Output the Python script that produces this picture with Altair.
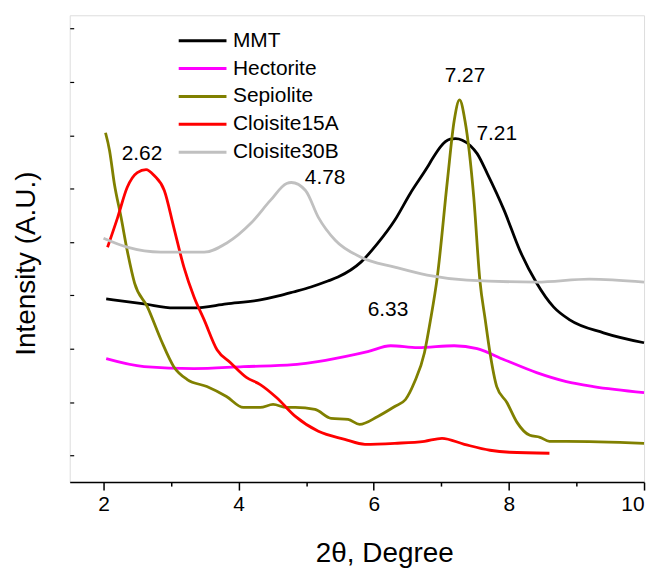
import altair as alt
import pandas as pd

series = ["MMT", "Hectorite", "Sepiolite", "Cloisite15A", "Cloisite30B"]
colors = ["#000000", "#ff00ff", "#808000", "#ff0000", "#c0c0c0"]

mmt_x = [2.04, 2.60, 3.04, 3.34, 3.82, 4.32, 4.59, 4.81, 5.07, 5.32, 5.47, 5.81, 6.06, 6.31, 6.54, 6.79, 6.87,
         6.99, 7.06, 7.13, 7.21, 7.31, 7.43, 7.53, 7.68, 7.93, 8.16, 8.41, 8.66, 8.90, 9.40, 10.0]
mmt_y = [184, 179, 175, 175, 179, 183, 187, 191, 196, 202, 206, 221, 240, 263, 290, 316, 325,
         337, 342, 344.5, 345, 343.5, 338, 330, 310, 273, 233, 200, 176, 163, 150, 140]

hec_x = [2.04, 2.60, 3.34, 4.07, 4.81, 5.07, 5.57, 5.91, 6.25, 6.65, 7.19, 7.53, 7.93, 8.41, 8.85, 9.25, 10.0]
hec_y = [124, 116, 114, 116, 118, 120, 126, 131, 137, 135, 137, 134, 123, 110, 101, 96, 90]

sep_x = [2.03, 2.09, 2.16, 2.26, 2.35, 2.46, 2.65, 2.85, 3.04, 3.24, 3.53, 3.82, 4.07, 4.32, 4.51, 4.71, 4.84,
         5.13, 5.37, 5.62, 5.79, 6.06, 6.31, 6.47, 6.60, 6.75, 6.84, 6.94, 7.09, 7.19, 7.27, 7.35, 7.48, 7.57,
         7.65, 7.72, 7.82, 7.97, 8.12, 8.31, 8.46, 8.60, 8.85, 10.0]
sep_y = [351, 333, 300, 266, 233, 200, 176, 143, 116, 103, 96, 86, 75, 75, 78, 75, 75,
         73, 64, 63, 58, 66, 76, 83, 100, 130, 163, 206, 303, 363, 384, 363, 286, 203,
         163, 130, 96, 80, 60, 47, 45, 41, 41, 39]

c15_x = [2.06, 2.21, 2.35, 2.50, 2.63, 2.75, 2.90, 3.04, 3.19, 3.34, 3.49, 3.68, 3.88, 4.12, 4.32, 4.56, 4.84,
         5.18, 5.57, 5.87, 6.31, 6.75, 7.01, 7.34, 7.72, 8.01, 8.60]
c15_y = [236, 266, 296, 311, 314, 308, 293, 256, 216, 186, 163, 133, 120, 105, 98, 85, 66,
         51, 43, 38, 39, 41, 44, 38, 32, 30, 29]

c30_x = [2.0, 2.35, 2.85, 3.49, 3.82, 4.18, 4.47, 4.71, 4.78, 4.99, 5.18, 5.43, 5.81, 6.31, 6.79, 7.38, 8.41,
         9.19, 10.0]
c30_y = [245, 236, 231, 231, 240, 260, 283, 300, 301, 293, 266, 243, 226, 216, 208, 203, 201,
         204, 201]

ann_text = ["2.62", "4.78", "7.27", "7.21", "6.33"]
ann_x = [2.57, 5.28, 7.35, 7.82, 6.21]
ann_y = [330, 305, 408, 350, 173]

x_ticks = [2, 3, 4, 5, 6, 7, 8, 9, 10]
y_ticks = [26.8 * k for k in range(1, 18)]

rows = []
for name, xs, ys in [("MMT", mmt_x, mmt_y), ("Hectorite", hec_x, hec_y), ("Sepiolite", sep_x, sep_y),
                     ("Cloisite15A", c15_x, c15_y), ("Cloisite30B", c30_x, c30_y)]:
    for xv, yv in zip(xs, ys):
        rows.append({"series": name, "x": xv, "y": yv})
df = pd.DataFrame(rows)
ann = pd.DataFrame({"x": ann_x, "y": ann_y, "t": ann_text})

FONT = "Liberation Sans"
xscale = alt.Scale(domain=[1.5, 10], nice=False, zero=False)
yscale = alt.Scale(domain=[0, 469], nice=False, zero=False)

lines = alt.Chart(df).mark_line(strokeWidth=2.8, interpolate="monotone").encode(
    x=alt.X("x:Q", scale=xscale, title="2θ, Degree",
            axis=alt.Axis(values=x_ticks, format="d",
                          labelExpr="datum.value % 2 == 0 ? datum.label : ''",
                          tickSize={"condition": {"test": "datum.value % 2 == 1", "value": 4}, "value": 8},
                          tickColor="black", tickWidth=1.5, domainColor="black", domainWidth=1.5,
                          labelFontSize=21, labelColor="black", labelPadding=4, labelFont=FONT,
                          titleFontSize=28, titleFontWeight="normal", titleColor="black", titleFont=FONT,
                          titleX=316, titleY=80, titleAlign="center", titleBaseline="alphabetic",
                          grid=False)),
    y=alt.Y("y:Q", scale=yscale, title="Intensity (A.U.)",
            axis=alt.Axis(values=y_ticks, labels=False, domain=False, tickSize=4, offset=-4,
                          tickColor="black", tickWidth=1.2, grid=False,
                          titleFontSize=28, titleFontWeight="normal", titleColor="black", titleFont=FONT,
                          titlePadding=29, titleY=249)),
    color=alt.Color("series:N", scale=alt.Scale(domain=series, range=colors),
                    legend=alt.Legend(title=None, orient="none", legendX=120, legendY=12,
                                      symbolType="M-2,0H2", symbolSize=576, symbolStrokeWidth=3,
                                      labelFontSize=21, labelFont=FONT, labelColor="black",
                                      labelOffset=17, rowPadding=4, padding=0)),
)

labels = alt.Chart(ann).mark_text(fontSize=21, font=FONT, color="black").encode(
    x=alt.X("x:Q", scale=xscale), y=alt.Y("y:Q", scale=yscale), text="t:N"
)

chart = alt.layer(lines, labels).properties(
    width=577, height=469,
    autosize=alt.AutoSizeParams(type="none"),
    padding={"left": 62, "top": 6, "right": 8, "bottom": 88},
).configure_view(stroke="black", strokeWidth=1.5).configure(background="white")

chart.save("out.html", embed_options={"renderer": "svg", "actions": False})
